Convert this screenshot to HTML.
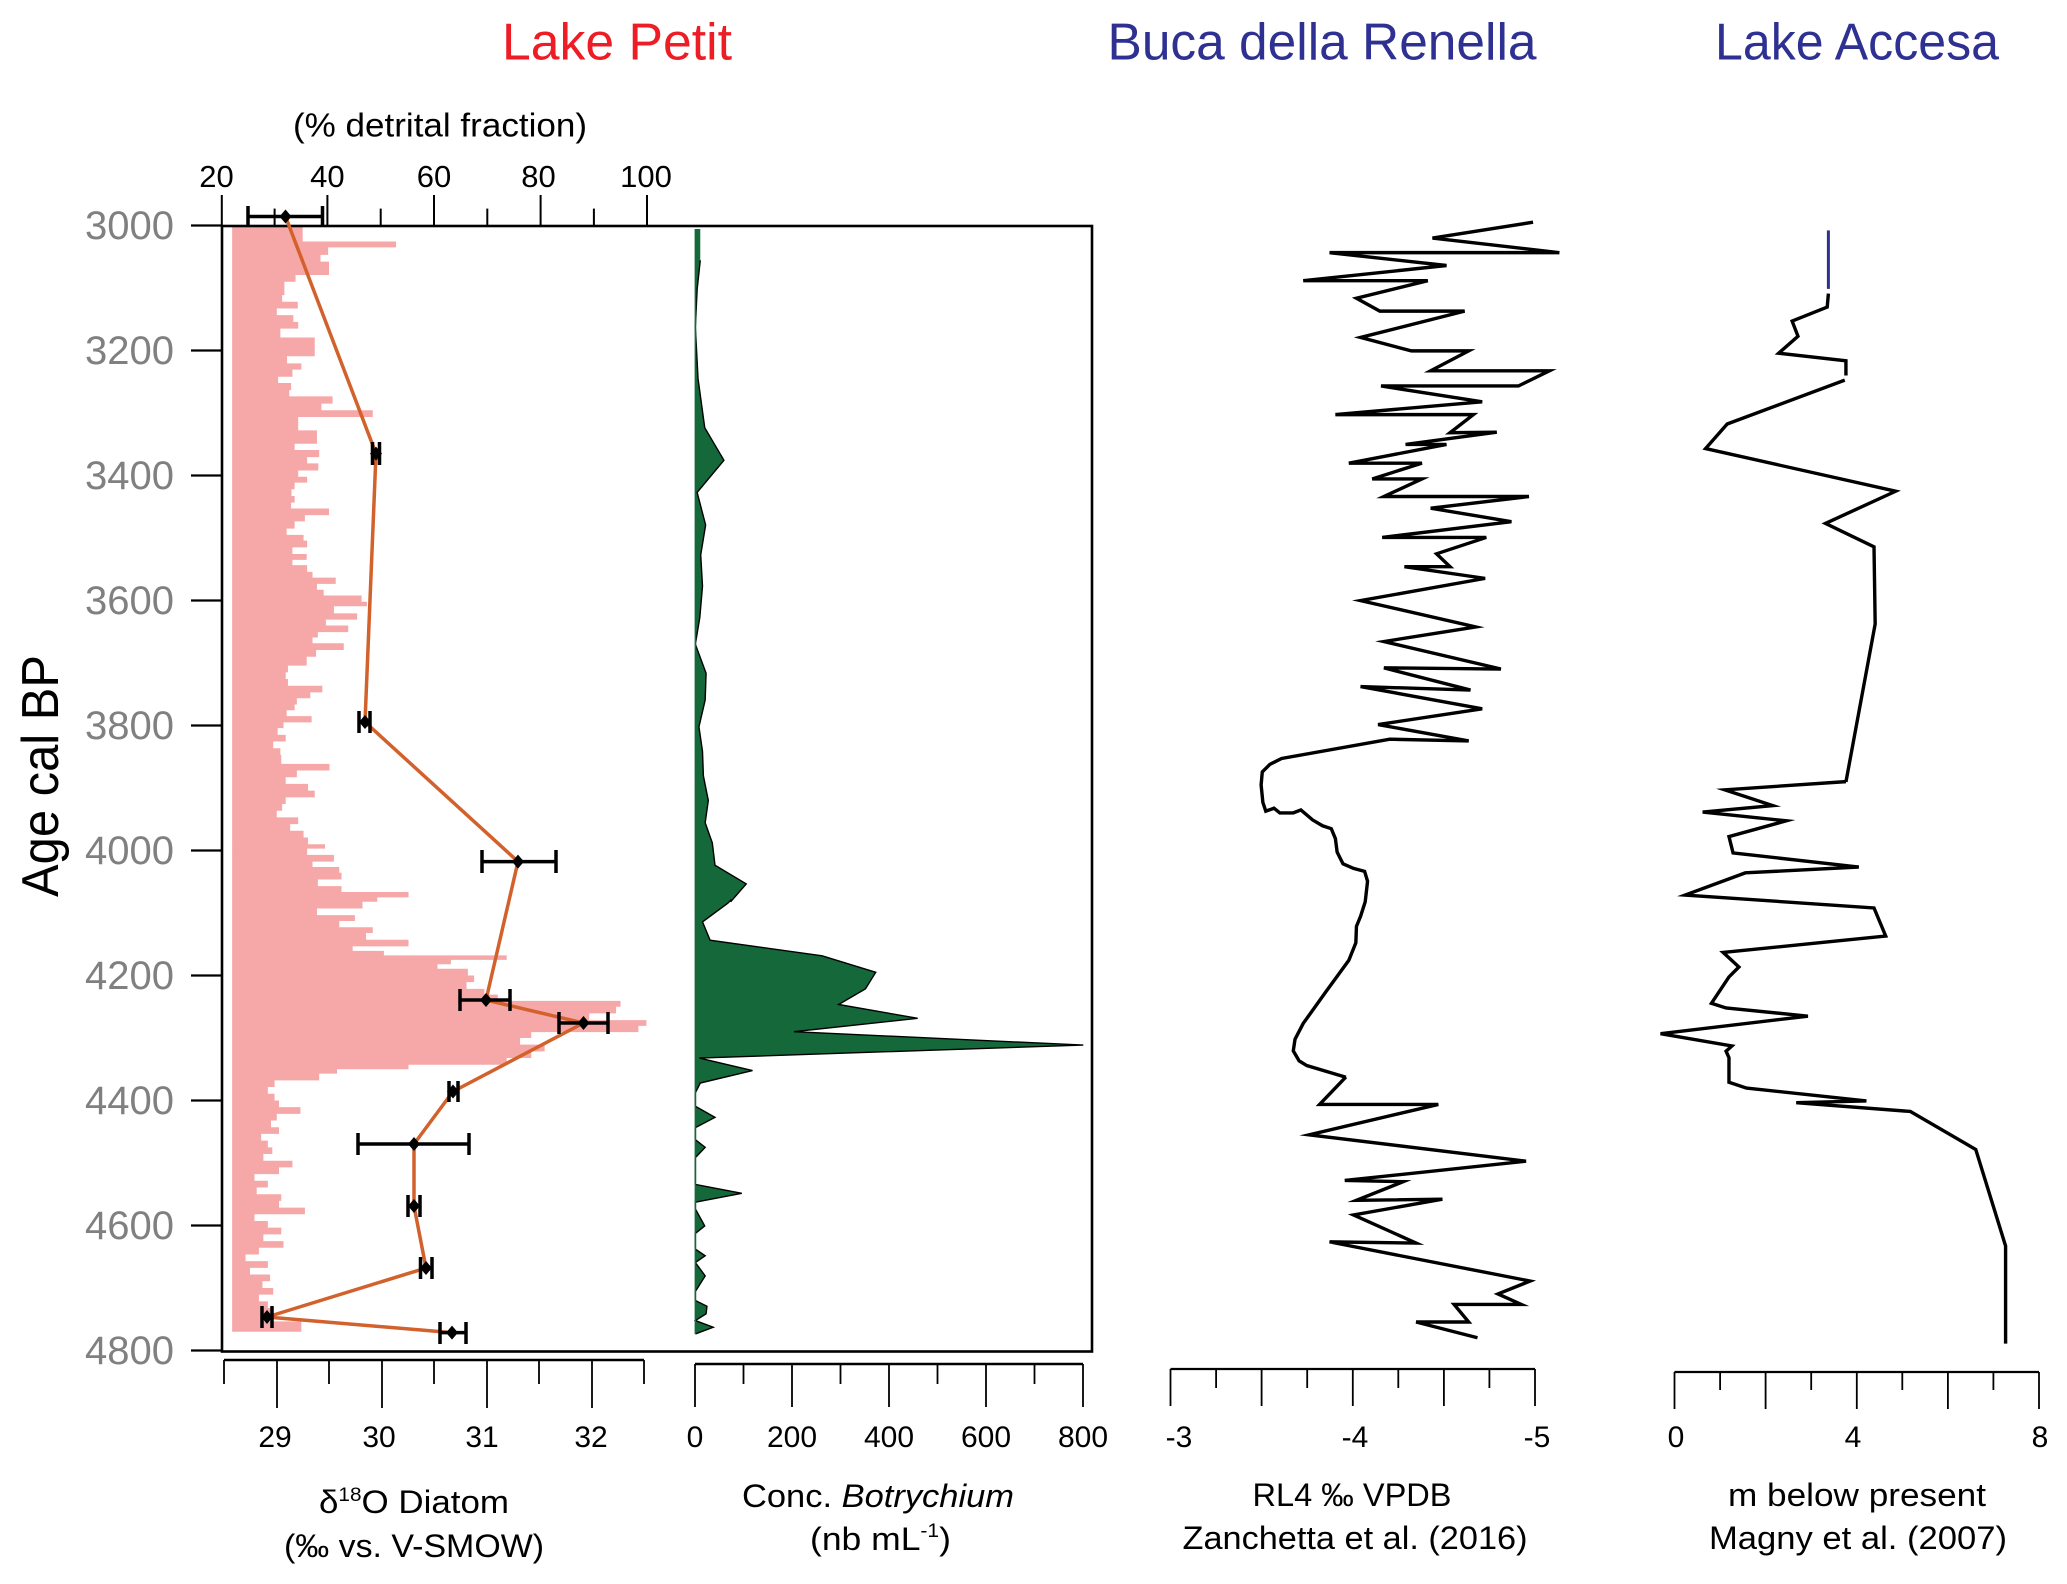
<!DOCTYPE html>
<html>
<head>
<meta charset="utf-8">
<style>
html,body{margin:0;padding:0;background:#fff;}
svg{display:block;}
text{font-family:"Liberation Sans","DejaVu Sans",sans-serif;}
</style>
</head>
<body>
<svg width="2067" height="1584" viewBox="0 0 2067 1584" xmlns="http://www.w3.org/2000/svg">
<rect x="0" y="0" width="2067" height="1584" fill="#fff"/>

<!-- Titles -->
<text x="617" y="59.5" font-size="52" fill="#ee1c25" text-anchor="middle" textLength="230" lengthAdjust="spacingAndGlyphs">Lake Petit</text>
<text x="1322" y="59.5" font-size="52" fill="#2e3192" text-anchor="middle" textLength="429" lengthAdjust="spacingAndGlyphs">Buca della Renella</text>
<text x="1857" y="59.5" font-size="52" fill="#2e3192" text-anchor="middle" textLength="284" lengthAdjust="spacingAndGlyphs">Lake Accesa</text>

<!-- top axis label -->
<text x="440" y="136.5" font-size="33" fill="#000" text-anchor="middle" textLength="294" lengthAdjust="spacingAndGlyphs">(% detrital fraction)</text>

<!-- top axis ticks -->
<g stroke="#000" stroke-width="2">
<line x1="221.8" y1="195" x2="221.8" y2="226"/>
<line x1="327.4" y1="195" x2="327.4" y2="226"/>
<line x1="434" y1="195" x2="434" y2="226"/>
<line x1="540.6" y1="195" x2="540.6" y2="226"/>
<line x1="647" y1="195" x2="647" y2="226"/>
<line x1="274.6" y1="208.6" x2="274.6" y2="226"/>
<line x1="380.7" y1="208.6" x2="380.7" y2="226"/>
<line x1="487.3" y1="208.6" x2="487.3" y2="226"/>
<line x1="593.9" y1="208.6" x2="593.9" y2="226"/>
</g>
<g font-size="31" fill="#000" text-anchor="middle">
<text x="216.5" y="187">20</text>
<text x="327.4" y="187">40</text>
<text x="434" y="187">60</text>
<text x="538.5" y="187">80</text>
<text x="646" y="187">100</text>
</g>

<!-- pink bars -->
<g transform="translate(0,150) scale(0.446429)">
<path fill="#f6a8a8" d="M520,170 H678 V205 H887 V218 H735 V235 H718 V250 H737 V280 H662 V295 H637 V325 H632 V340 H667 V355 H620 V370 H657 V385 H668 V400 H628 V420 H705 V462 H643 V478 H675 V492 H655 V508 H623 V522 H652 V538 H648 V552 H745 V568 H720 V583 H835 V598 H668 V628 H710 V658 H660 V672 H715 V688 H688 V702 H713 V718 H668 V732 H688 V745 H660 V760 H653 V775 H660 V790 H652 V803 H737 V818 H683 V832 H660 V848 H642 V862 H680 V875 H688 V890 H655 V905 H687 V918 H655 V930 H688 V945 H700 V958 H752 V972 H710 V985 H725 V998 H810 V1012 H822 V1022 H748 V1038 H800 V1052 H730 V1065 H780 V1080 H712 V1092 H700 V1105 H770 V1120 H708 V1135 H687 V1155 H645 V1170 H640 V1185 H645 V1200 H722 V1215 H695 V1228 H665 V1242 H660 V1255 H642 V1268 H698 V1282 H635 V1295 H622 V1310 H640 V1325 H612 V1340 H628 V1355 H630 V1375 H738 V1390 H665 V1405 H640 V1420 H690 V1435 H705 V1450 H640 V1465 H632 V1480 H620 V1495 H668 V1510 H650 V1525 H680 V1540 H690 V1555 H728 V1565 H520 Z"/>
</g>
<g transform="translate(0,750) scale(0.446429)">
<path fill="#f6a8a8" d="M520,219 H688 V235 H748 V250 H700 V262 H760 V275 H765 V290 H712 V305 H765 V318 H915 V330 H845 V340 H812 V355 H710 V370 H795 V383 H760 V397 H835 V410 H820 V425 H915 V440 H790 V450 H860 V460 H1135 V470 H1010 V480 H980 V490 H1048 V505 H1062 V520 H1045 V535 H1085 V548 H1115 V562 H1390 V575 H1380 V590 H1320 V605 H1448 V618 H1430 V632 H1190 V645 H1165 V660 H1220 V675 H1190 V690 H1135 V705 H915 V715 H755 V725 H715 V740 H615 V755 H600 V770 H615 V785 H625 V800 H673 V815 H620 V830 H607 V845 H625 V860 H585 V875 H600 V890 H610 V905 H590 V920 H655 V935 H625 V950 H570 V965 H600 V980 H575 V995 H630 V1010 H625 V1025 H683 V1040 H570 V1055 H600 V1070 H630 V1085 H590 V1100 H635 V1115 H580 V1130 H550 V1145 H600 V1160 H560 V1175 H605 V1190 H588 V1205 H612 V1220 H580 V1235 H600 V1250 H610 V1265 H590 V1280 H675 V1303 H520 Z"/>
</g>

<!-- green Botrychium -->
<g transform="translate(640,200) scale(0.446429)">
<path fill="#14683a" d="M124,65 L135,65 L135,135 L128,200 L124,285 L130,400 L145,510 L188,583 L128,655 L147,728 L136,795 L140,865 L134,935 L124,995 L148,1060 L146,1120 L132,1180 L140,1235 L142,1290 L153,1345 L146,1395 L162,1440 L168,1490 L238,1532 L203,1572 L124,1572 Z"/>
<polyline fill="none" stroke="#000" stroke-width="1.4" vector-effect="non-scaling-stroke" points="135,135 128,200 124,285 130,400 145,510 188,583 128,655 147,728 136,795 140,865 134,935 124,995 148,1060 146,1120 132,1180 140,1235 142,1290 153,1345 146,1395 162,1440 168,1490 238,1532 203,1572"/>
</g>
<g transform="translate(640,700) scale(0.446429)">
<path fill="#14683a" d="M124,445 L207,445 L197,455 L140,497 L157,538 L408,573 L528,610 L505,647 L445,682 L622,713 L345,743 L993,773 L133,802 L252,830 L135,858 L124,880 L124,910 L168,935 L124,958 L124,985 L146,1002 L124,1025 L124,1085 L228,1105 L124,1125 L124,1140 L145,1178 L124,1195 L124,1230 L146,1245 L124,1260 L146,1290 L124,1325 L124,1345 L150,1358 L148,1375 L124,1390 L164,1405 L124,1420 Z"/>
<polyline fill="none" stroke="#000" stroke-width="1.4" vector-effect="non-scaling-stroke" points="205,447 197,455 140,497 157,538 408,573 528,610 505,647 445,682 622,713 345,743 993,773 133,802 252,830 135,858 124,880 124,910 168,935 124,958 124,985 146,1002 124,1025 124,1085 228,1105 124,1125 124,1140 145,1178 124,1195 124,1230 146,1245 124,1260 146,1290 124,1325 124,1345 150,1358 148,1375 124,1390 164,1405 124,1420"/>
</g>
<line x1="695.4" y1="229" x2="695.4" y2="1334" stroke="#14683a" stroke-width="1.6"/>

<!-- Frame -->
<rect x="222" y="226" width="870" height="1125.5" fill="none" stroke="#000" stroke-width="2.6"/>

<!-- Y axis -->
<g stroke="#000" stroke-width="2.2">
<line x1="191" y1="225.5" x2="222" y2="225.5"/>
<line x1="191" y1="350.5" x2="222" y2="350.5"/>
<line x1="191" y1="475.5" x2="222" y2="475.5"/>
<line x1="191" y1="600.5" x2="222" y2="600.5"/>
<line x1="191" y1="725.5" x2="222" y2="725.5"/>
<line x1="191" y1="850.5" x2="222" y2="850.5"/>
<line x1="191" y1="975.5" x2="222" y2="975.5"/>
<line x1="191" y1="1100.5" x2="222" y2="1100.5"/>
<line x1="191" y1="1225.5" x2="222" y2="1225.5"/>
<line x1="191" y1="1350.5" x2="222" y2="1350.5"/>
</g>
<g font-size="40" fill="#808080" text-anchor="end">
<text x="174" y="239">3000</text>
<text x="174" y="364">3200</text>
<text x="174" y="489">3400</text>
<text x="174" y="614">3600</text>
<text x="174" y="739">3800</text>
<text x="174" y="864">4000</text>
<text x="174" y="989">4200</text>
<text x="174" y="1114">4400</text>
<text x="174" y="1239">4600</text>
<text x="174" y="1364">4800</text>
</g>
<text transform="translate(58,776) rotate(-90)" font-size="52" fill="#000" text-anchor="middle" textLength="242" lengthAdjust="spacingAndGlyphs">Age cal BP</text>

<!-- d18O orange line -->
<polyline fill="none" stroke="#d2612b" stroke-width="3.5" stroke-linejoin="round" points="285.5,216.5 376,453.6 365,722 518,861.6 486,1000 583.5,1023 453,1091.5 414,1144 414,1206 426,1268 267,1317 452,1332.6"/>

<!-- error bars -->
<g stroke="#000" stroke-width="3.5" fill="none">
<path d="M248,216.5 H322.5 M248,206 V227 M322.5,206 V227"/>
<path d="M372.5,453.6 H379.5 M372.5,442 V465 M379.5,442 V465"/>
<path d="M359,722 H370 M359,711 V733 M370,711 V733"/>
<path d="M482,861.6 H556 M482,850 V873 M556,850 V873"/>
<path d="M460,1000 H510 M460,989 V1011 M510,989 V1011"/>
<path d="M559,1023 H608 M559,1012 V1034 M608,1012 V1034"/>
<path d="M449,1091.5 H458 M449,1081 V1102 M458,1081 V1102"/>
<path d="M358,1144 H469 M358,1133 V1155 M469,1133 V1155"/>
<path d="M408,1206 H420 M408,1195 V1217 M420,1195 V1217"/>
<path d="M420.5,1268 H432 M420.5,1257 V1279 M432,1257 V1279"/>
<path d="M262,1317 H272 M262,1306 V1328 M272,1306 V1328"/>
<path d="M440,1332.6 H466 M440,1322 V1344 M466,1322 V1344"/>
</g>
<g fill="#000">
<path d="M285.5,209.5 l6,7 l-6,7 l-6,-7 z"/>
<path d="M376,446.6 l6,7 l-6,7 l-6,-7 z"/>
<path d="M365,715 l6,7 l-6,7 l-6,-7 z"/>
<path d="M518,854.6 l6,7 l-6,7 l-6,-7 z"/>
<path d="M486,993 l6,7 l-6,7 l-6,-7 z"/>
<path d="M583.5,1016 l6,7 l-6,7 l-6,-7 z"/>
<path d="M453,1084.5 l6,7 l-6,7 l-6,-7 z"/>
<path d="M414,1137 l6,7 l-6,7 l-6,-7 z"/>
<path d="M414,1199 l6,7 l-6,7 l-6,-7 z"/>
<path d="M426,1261 l6,7 l-6,7 l-6,-7 z"/>
<path d="M267,1310 l6,7 l-6,7 l-6,-7 z"/>
<path d="M452,1325.6 l6,7 l-6,7 l-6,-7 z"/>
</g>

<!-- Buca della Renella -->
<g transform="translate(1150,200) scale(0.58482)">
<polyline fill="none" stroke="#000" stroke-width="3.4" vector-effect="non-scaling-stroke" stroke-linejoin="miter" stroke-miterlimit="6" points="655,38 483,65 700,90 307,90 507,112 262,138 475,138 353,168 393,190 538,190 360,235 447,258 545,258 480,292 683,292 630,318 395,318 568,345 317,367 553,367 513,398 593,397 437,418 507,418 340,450 465,450 380,477 465,477 400,507 648,507 480,527 618,550 397,577 575,577 490,605 513,627 435,627 573,647 360,685 557,730 400,755 600,802 400,800 548,838 360,832 568,870 390,897 545,925 410,922 225,955 205,965 192,978 190,1000 193,1030 198,1045 212,1040 222,1048 245,1048 258,1043 278,1060 295,1070 310,1075 317,1092 320,1115 330,1135 348,1143 367,1148 372,1165 368,1200 360,1225 353,1242 352,1270 340,1300 300,1355 262,1408 248,1435 245,1455 255,1472 268,1480 335,1500"/>
</g>
<g transform="translate(1150,667) scale(0.58482)">
<polyline fill="none" stroke="#000" stroke-width="3.4" vector-effect="non-scaling-stroke" stroke-linejoin="miter" stroke-miterlimit="6" points="335,701 290,748 493,748 272,800 643,845 333,878 433,880 353,912 500,910 348,937 455,985 307,983 650,1050 595,1072 635,1090 520,1090 545,1120 455,1120 560,1147"/>
</g>

<!-- Lake Accesa -->
<g transform="translate(1150,200) scale(0.58482)">
<line x1="1160" y1="52" x2="1160" y2="152" stroke="#2e3192" stroke-width="3" vector-effect="non-scaling-stroke"/>
<polyline fill="none" stroke="#000" stroke-width="3.4" vector-effect="non-scaling-stroke" stroke-linejoin="miter" points="1160,160 1158,183 1098,207 1108,233 1075,262 1190,275 1190,300"/>
<polyline fill="none" stroke="#000" stroke-width="3.4" vector-effect="non-scaling-stroke" stroke-linejoin="miter" stroke-miterlimit="6" points="1188,308 987,383 950,425 1275,498 1155,553 1238,593 1240,725 1190,995"/>
</g>
<g transform="translate(1150,667) scale(0.58482)">
<polyline fill="none" stroke="#000" stroke-width="3.4" vector-effect="non-scaling-stroke" stroke-linejoin="miter" stroke-miterlimit="6" points="1190,196 983,210 1065,237 945,248 1088,263 990,290 997,318 1212,342 1018,352 915,390 1238,412 1258,460 1160,470 980,488 1007,513 990,530 960,575 985,583 1125,597 873,627 995,648 985,657 990,668 990,710 1020,720 1225,742 1105,745 1300,760 1412,825 1463,990 1463,1157"/>
</g>

<!-- Bottom axes -->
<g stroke="#000" stroke-width="1.8" fill="none">
<line x1="224" y1="1360" x2="644" y2="1360" stroke-width="2.4"/>
<line x1="277" y1="1360" x2="277" y2="1408"/>
<line x1="382" y1="1360" x2="382" y2="1408"/>
<line x1="487" y1="1360" x2="487" y2="1408"/>
<line x1="592" y1="1360" x2="592" y2="1408"/>
<line x1="224" y1="1360" x2="224" y2="1384"/>
<line x1="329" y1="1360" x2="329" y2="1384"/>
<line x1="434" y1="1360" x2="434" y2="1384"/>
<line x1="539" y1="1360" x2="539" y2="1384"/>
<line x1="644" y1="1360" x2="644" y2="1384"/>
<line x1="695" y1="1364" x2="1083" y2="1364" stroke-width="2.4"/>
<line x1="695" y1="1364" x2="695" y2="1407"/>
<line x1="792" y1="1364" x2="792" y2="1407"/>
<line x1="889" y1="1364" x2="889" y2="1407"/>
<line x1="986" y1="1364" x2="986" y2="1407"/>
<line x1="1083" y1="1364" x2="1083" y2="1407"/>
<line x1="743.5" y1="1364" x2="743.5" y2="1384"/>
<line x1="840.5" y1="1364" x2="840.5" y2="1384"/>
<line x1="937.5" y1="1364" x2="937.5" y2="1384"/>
<line x1="1034.5" y1="1364" x2="1034.5" y2="1384"/>
<line x1="1170.5" y1="1369" x2="1535" y2="1369" stroke-width="2.2"/>
<line x1="1170.5" y1="1369" x2="1170.5" y2="1406"/>
<line x1="1261.6" y1="1369" x2="1261.6" y2="1406"/>
<line x1="1352.8" y1="1369" x2="1352.8" y2="1406"/>
<line x1="1443.9" y1="1369" x2="1443.9" y2="1406"/>
<line x1="1535" y1="1369" x2="1535" y2="1406"/>
<line x1="1216.1" y1="1369" x2="1216.1" y2="1388"/>
<line x1="1307.2" y1="1369" x2="1307.2" y2="1388"/>
<line x1="1398.3" y1="1369" x2="1398.3" y2="1388"/>
<line x1="1489.4" y1="1369" x2="1489.4" y2="1388"/>
<line x1="1674.5" y1="1372" x2="2039" y2="1372" stroke-width="2.2"/>
<line x1="1674.5" y1="1372" x2="1674.5" y2="1409"/>
<line x1="1765.6" y1="1372" x2="1765.6" y2="1409"/>
<line x1="1856.8" y1="1372" x2="1856.8" y2="1409"/>
<line x1="1947.9" y1="1372" x2="1947.9" y2="1409"/>
<line x1="2039" y1="1372" x2="2039" y2="1409"/>
<line x1="1720.1" y1="1372" x2="1720.1" y2="1390"/>
<line x1="1811.2" y1="1372" x2="1811.2" y2="1390"/>
<line x1="1902.3" y1="1372" x2="1902.3" y2="1390"/>
<line x1="1993.4" y1="1372" x2="1993.4" y2="1390"/>
</g>

<g font-size="30" fill="#000" text-anchor="middle">
<text x="275" y="1447">29</text>
<text x="379" y="1447">30</text>
<text x="482" y="1447">31</text>
<text x="591" y="1447">32</text>
<text x="695" y="1447">0</text>
<text x="792" y="1447">200</text>
<text x="889" y="1447">400</text>
<text x="986" y="1447">600</text>
<text x="1083" y="1447">800</text>
<text x="1179" y="1447">-3</text>
<text x="1355" y="1447">-4</text>
<text x="1537" y="1447">-5</text>
<text x="1676" y="1447">0</text>
<text x="1853" y="1447">4</text>
<text x="2040" y="1447">8</text>
</g>

<!-- Axis titles -->
<g font-size="32" fill="#000">
<text x="319" y="1513" textLength="190" lengthAdjust="spacingAndGlyphs">δ<tspan font-size="19" dy="-12">18</tspan><tspan dy="12">O Diatom</tspan></text>
<text x="414" y="1557" text-anchor="middle" textLength="260" lengthAdjust="spacingAndGlyphs">(‰ vs. V-SMOW)</text>
<text x="742" y="1507" textLength="272" lengthAdjust="spacingAndGlyphs">Conc. <tspan font-style="italic">Botrychium</tspan></text>
<text x="810" y="1550" textLength="141" lengthAdjust="spacingAndGlyphs">(nb mL<tspan font-size="19" dy="-13">-1</tspan><tspan dy="13">)</tspan></text>
<text x="1352" y="1506" text-anchor="middle" textLength="199" lengthAdjust="spacingAndGlyphs">RL4 ‰ VPDB</text>
<text x="1355" y="1549" text-anchor="middle" textLength="345" lengthAdjust="spacingAndGlyphs">Zanchetta et al. (2016)</text>
<text x="1857" y="1506" text-anchor="middle" textLength="258" lengthAdjust="spacingAndGlyphs">m below present</text>
<text x="1858" y="1549" text-anchor="middle" textLength="298" lengthAdjust="spacingAndGlyphs">Magny et al. (2007)</text>
</g>
</svg>
</body>
</html>
